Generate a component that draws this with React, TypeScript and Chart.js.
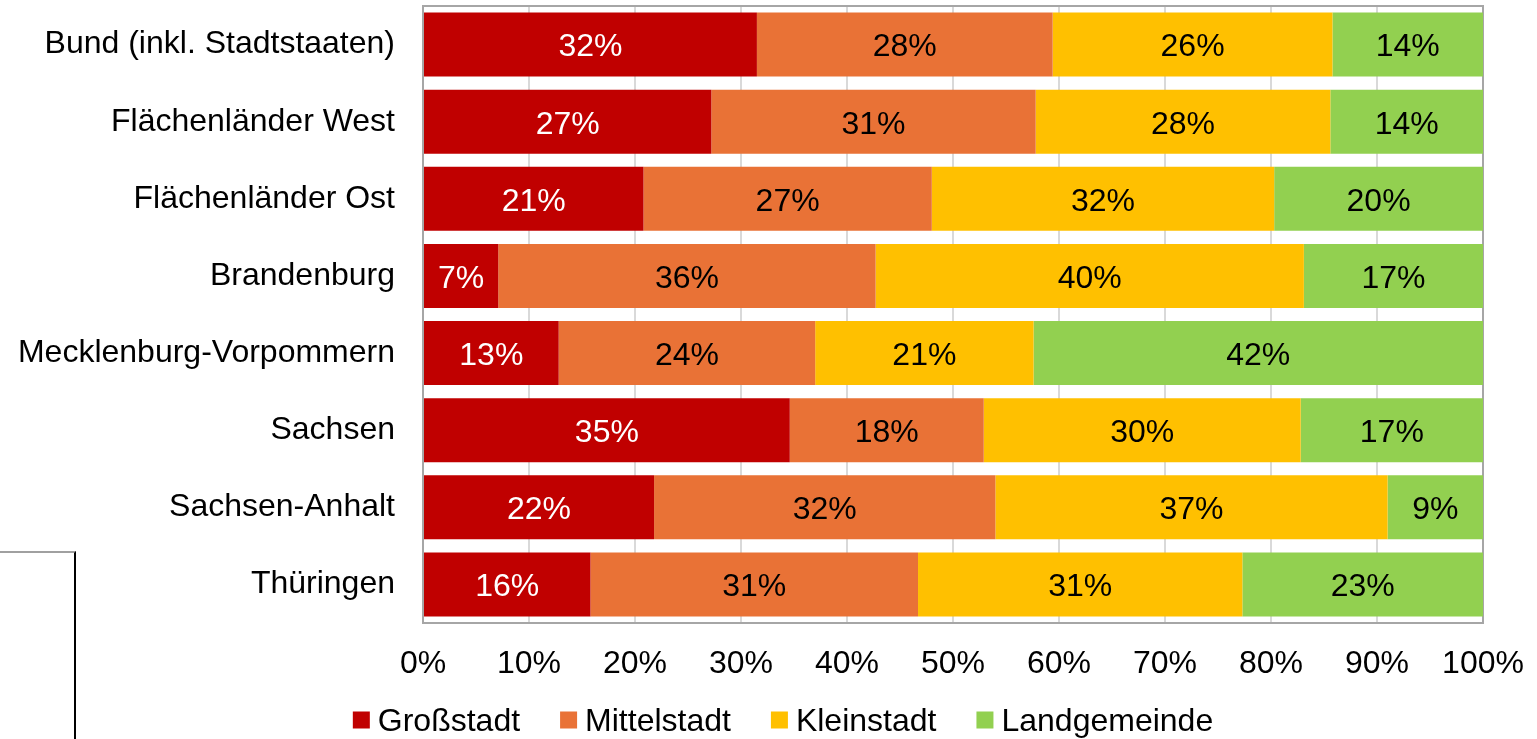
import React, { useEffect, useRef } from "react";
import { Chart, registerables } from "chart.js";

Chart.register(...registerables);

const categories = [
  "Bund (inkl. Stadtstaaten)",
  "Flächenländer West",
  "Flächenländer Ost",
  "Brandenburg",
  "Mecklenburg-Vorpommern",
  "Sachsen",
  "Sachsen-Anhalt",
  "Thüringen",
];
const seriesNames = ["Großstadt", "Mittelstadt", "Kleinstadt", "Landgemeinde"];
const grossstadt = [31.5, 27.2, 20.8, 7.1, 12.8, 34.6, 21.8, 15.8];
const mittelstadt = [27.9, 30.6, 27.2, 35.6, 24.2, 18.3, 32.2, 30.9];
const kleinstadt = [26.4, 27.8, 32.3, 40.4, 20.6, 29.9, 37.0, 30.6];
const landgemeinde = [14.2, 14.4, 19.7, 16.9, 42.4, 17.2, 9.0, 22.7];
const seriesColors = ["#C00000", "#E97236", "#FFC000", "#92D050"];
const labelColors = ["#FFFFFF", "#000000", "#000000", "#000000"];

const FONT = "'Liberation Sans', Arial, sans-serif";
const FS = 32;

const framePlugin = {
  id: "frame",
  beforeDatasetsDraw(chart: any) {
    const { ctx, chartArea } = chart;
    ctx.save();
    ctx.strokeStyle = "#A6A6A6";
    ctx.lineWidth = 2;
    ctx.strokeRect(chartArea.left, chartArea.top, chartArea.right - chartArea.left, chartArea.bottom - chartArea.top);
    ctx.restore();
  },
};

const valueLabelPlugin = {
  id: "valueLabels",
  afterDatasetsDraw(chart: any) {
    const { ctx } = chart;
    ctx.save();
    ctx.font = `${FS}px ${FONT}`;
    ctx.textAlign = "center";
    ctx.textBaseline = "middle";
    chart.data.datasets.forEach((ds: any, di: number) => {
      const meta = chart.getDatasetMeta(di);
      meta.data.forEach((el: any, i: number) => {
        const v = ds.data[i];
        const cx = (el.x + el.base) / 2;
        ctx.fillStyle = labelColors[di];
        ctx.fillText(`${Math.round(v)}%`, cx, el.y + 3);
      });
    });
    ctx.restore();
  },
};

const legendPlugin = {
  id: "customLegend",
  afterDraw(chart: any) {
    const { ctx } = chart;
    ctx.save();
    ctx.font = `${FS}px ${FONT}`;
    const box = 17;
    const gap = 8;
    const itemGap = 40;
    const widths = seriesNames.map((n) => ctx.measureText(n).width);
    const total = widths.reduce((a, w) => a + box + gap + w, 0) + itemGap * (seriesNames.length - 1);
    let x = 783 - total / 2;
    const y = 720;
    ctx.textBaseline = "middle";
    ctx.textAlign = "left";
    seriesNames.forEach((n, i) => {
      ctx.fillStyle = seriesColors[i];
      ctx.fillRect(x, y - box / 2, box, box);
      ctx.fillStyle = "#000";
      ctx.fillText(n, x + box + gap, y + 2);
      x += box + gap + widths[i] + itemGap;
    });
    ctx.restore();
  },
};

export default function App() {
  const ref = useRef<HTMLCanvasElement>(null);
  useEffect(() => {
    if (!ref.current) return;
    const values = [grossstadt, mittelstadt, kleinstadt, landgemeinde];
    const chart = new Chart(ref.current, {
      type: "bar",
      data: {
        labels: categories,
        datasets: seriesNames.map((name, i) => ({
          label: name,
          data: values[i],
          backgroundColor: seriesColors[i],
          borderWidth: 0,
          barPercentage: 0.83,
          categoryPercentage: 1,
        })),
      },
      options: {
        indexAxis: "y",
        responsive: false,
        animation: false,
        devicePixelRatio: 1,
        layout: { padding: { top: 6, right: 54, bottom: 56, left: 0 } },
        plugins: { legend: { display: false }, tooltip: { enabled: false } },
        scales: {
          x: {
            stacked: true,
            min: 0,
            max: 100,
            ticks: {
              stepSize: 10,
              padding: 22,
              color: "#000",
              font: { family: FONT, size: FS },
              callback: (v: any) => `${v}%`,
            },
            grid: { color: "#D9D9D9", lineWidth: 2, drawTicks: false },
            border: { color: "#A6A6A6", width: 2 },
            afterFit: (s: any) => {
              s.paddingLeft = 0;
              s.paddingRight = 0;
              s.height = 60;
            },
          },
          y: {
            stacked: true,
            ticks: {
              padding: 28,
              color: "#000",
              font: { family: FONT, size: FS },
            },
            grid: { display: false, drawTicks: false },
            border: { color: "#A6A6A6", width: 2 },
            afterFit: (s: any) => {
              s.width = 423;
              s.paddingTop = 0;
              s.paddingBottom = 0;
            },
          },
        },
      },
      plugins: [framePlugin, valueLabelPlugin, legendPlugin],
    });
    return () => chart.destroy();
  }, []);

  return (
    <div style={{ position: "absolute", left: 0, top: 0, width: 1537, height: 739, background: "#fff" }}>
      <canvas ref={ref} width={1537} height={739} style={{ display: "block" }} />
      <div
        style={{
          position: "absolute",
          left: 0,
          top: 551,
          width: 76,
          height: 188,
          borderTop: "2px solid #A0A0A0",
          borderRight: "2px solid #000",
          boxSizing: "border-box",
        }}
      />
    </div>
  );
}
